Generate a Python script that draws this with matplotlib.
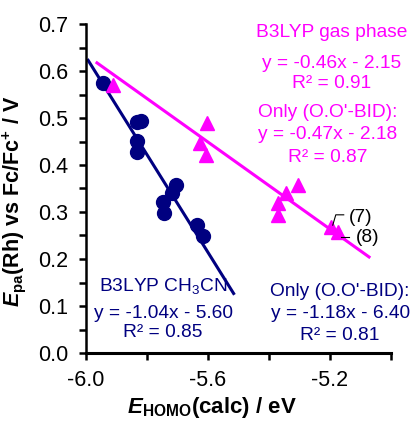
import numpy as np
import matplotlib
matplotlib.use("Agg")
import matplotlib.pyplot as plt
from matplotlib.ticker import MultipleLocator, FormatStrFormatter

plt.rcParams['font.family'] = ['Liberation Sans', 'DejaVu Sans']
plt.rcParams['axes.unicode_minus'] = False
plt.rcParams['mathtext.fontset'] = 'custom'
plt.rcParams['mathtext.rm'] = 'Liberation Sans'
plt.rcParams['mathtext.it'] = 'Liberation Sans:italic'
plt.rcParams['mathtext.bf'] = 'Liberation Sans:bold'
plt.rcParams['mathtext.bfit'] = 'Liberation Sans:bold:italic'

# B3LYP in CH3CN (circles)
homo_cn = [-5.944, -5.819, -5.832, -5.832, -5.832, -5.704, -5.717, -5.747, -5.743, -5.635, -5.615]
epa_cn = [0.574, 0.494, 0.492, 0.451, 0.428, 0.357, 0.340, 0.321, 0.298, 0.272, 0.249]

# B3LYP gas phase (triangles)
homo_gas = [-5.911, -5.602, -5.625, -5.605, -5.306, -5.345, -5.372, -5.372, -5.197, -5.174]
epa_gas = [0.570, 0.489, 0.447, 0.421, 0.357, 0.340, 0.319, 0.294, 0.268, 0.257]

# trend lines as drawn (slope, intercept, x range)
fit_cn = (-1.04, -5.61, (-5.993, -5.516))
fit_gas = (-0.463, -2.144, (-5.964, -5.072))

navy = '#000080'
magenta = '#FF00FF'

fig = plt.figure(figsize=(4.12, 4.21), dpi=100)
ax = fig.add_axes([86/412, 68/421, 305/412, 329/421])

for (m, b, xr), col in [(fit_cn, navy), (fit_gas, magenta)]:
    xs = np.array(xr)
    ax.plot(xs, m * xs + b, color=col, lw=2.2, zorder=2)

ax.plot(homo_cn, epa_cn, 'o', color=navy, ms=10, mec=navy, zorder=3)
ax.plot(homo_gas, epa_gas, '^', color=magenta, ms=10.5, mec=magenta, zorder=3)

ax.set_xlim(-6.0, -5.0)
ax.set_ylim(0.0, 0.7)
ax.xaxis.set_major_locator(MultipleLocator(0.4))
ax.xaxis.set_minor_locator(MultipleLocator(0.2))
ax.yaxis.set_major_locator(MultipleLocator(0.1))
ax.yaxis.set_minor_locator(MultipleLocator(0.05))
ax.xaxis.set_major_formatter(FormatStrFormatter('%.1f'))
ax.yaxis.set_major_formatter(FormatStrFormatter('%.1f'))
ax.tick_params(which='both', direction='out', length=5, width=1.8, labelsize=15.5)
ax.tick_params(axis='y', pad=8)
ax.tick_params(axis='x', pad=7)
for s in ['top', 'right']:
    ax.spines[s].set_visible(False)
ax.spines['left'].set_linewidth(1.8)
ax.spines['bottom'].set_linewidth(2.2)

tk = dict(ha='center', va='center', fontsize=13.8, clip_on=False)
ax.text(-5.194, 0.681, 'B3LYP gas phase', color=magenta, **tk)
ax.text(-5.194, 0.617, 'y = -0.46x - 2.15', color=magenta, **tk)
ax.text(-5.194, 0.574, 'R² = 0.91', color=magenta, **tk)
ax.text(-5.207, 0.511, "Only (O.O'-BID):", color=magenta, **tk)
ax.text(-5.207, 0.464, 'y = -0.47x - 2.18', color=magenta, **tk)
ax.text(-5.207, 0.417, 'R² = 0.87', color=magenta, **tk)

ax.text(-5.747, 0.143, r'B3LYP CH$_3$CN', color=navy, **tk)
ax.text(-5.747, 0.085, 'y = -1.04x - 5.60', color=navy, **tk)
ax.text(-5.747, 0.043, 'R² = 0.85', color=navy, **tk)
ax.text(-5.167, 0.130, "Only (O.O'-BID):", color=navy, **tk)
ax.text(-5.167, 0.085, 'y = -1.18x - 6.40', color=navy, **tk)
ax.text(-5.167, 0.038, 'R² = 0.81', color=navy, **tk)

ax.plot([-5.191, -5.181, -5.155], [0.272, 0.294, 0.294], color='black', lw=0.8, zorder=4)
ax.plot([-5.164, -5.138], [0.247, 0.247], color='black', lw=0.8, zorder=4)
ax.text(-5.099, 0.289, '(7)', color='black', **tk)
ax.text(-5.076, 0.245, '(8)', color='black', **tk)

fig.text(212/412, 1 - 408/421, r'$\mathbfit{E}_{\mathregular{HOMO}}$(calc) / eV',
         ha='center', va='center', fontsize=16, fontweight='bold')
fig.text(14/412, 1 - 201/421, r'$\mathbfit{E}_{\mathregular{pa}}$(Rh) vs Fc/Fc$^{\mathbf{+}}$ / V',
         ha='center', va='center', rotation=90, fontsize=15.5, fontweight='bold')

fig.savefig('out.png', dpi=100)
